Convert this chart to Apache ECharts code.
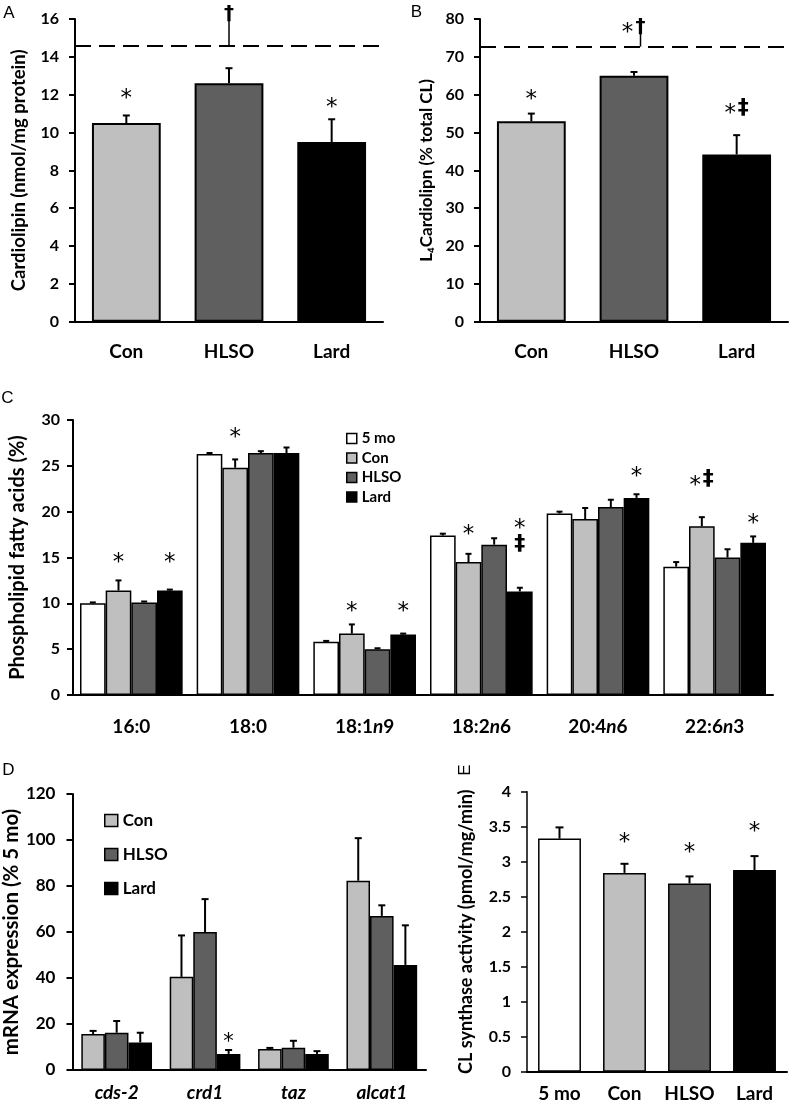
<!DOCTYPE html>
<html><head><meta charset="utf-8">
<script src="https://cdn.jsdelivr.net/npm/echarts@6/dist/echarts.min.js"></script>
<style>html,body{margin:0;padding:0;background:#fff}#c{width:791px;height:1105px}</style>
</head><body><div id="c"></div>
<script>
// ---------- DATA ----------
// Panel A
const catsA = ['Con', 'HLSO', 'Lard'];
const valA = [10.5, 12.6, 9.5];
const errA = [10.9, 13.4, 10.7];
const refA = 14.6;
// Panel B
const catsB = ['Con', 'HLSO', 'Lard'];
const valB = [53, 65, 44.2];
const errB = [55, 66, 49.3];
const refB = 72.7;
// Panel C
const catsC = ['16:0', '18:0', '18:1n9', '18:2n6', '20:4n6', '22:6n3'];
const namesC = ['5 mo', 'Con', 'HLSO', 'Lard'];
const c5mo = [10.0, 26.3, 5.8, 17.4, 19.8, 14.0];
const c5moErr = [10.1, 26.4, 5.9, 17.6, 20.0, 14.5];
const cCon = [11.4, 24.8, 6.7, 14.5, 19.2, 18.4];
const cConErr = [12.5, 25.7, 7.7, 15.4, 20.4, 19.4];
const cHLSO = [10.1, 26.4, 5.0, 16.4, 20.5, 15.0];
const cHLSOErr = [10.2, 26.6, 5.1, 17.1, 21.3, 15.9];
const cLard = [11.4, 26.4, 6.6, 11.3, 21.5, 16.6];
const cLardErr = [11.5, 27.0, 6.7, 11.7, 21.9, 17.3];
// Panel D
const catsD = ['cds-2', 'crd1', 'taz', 'alcat1'];
const namesD = ['Con', 'HLSO', 'Lard'];
const dCon = [15.6, 40.5, 9.1, 82.3];
const dConErr = [17.0, 58.5, 9.6, 100.8];
const dHLSO = [16.2, 60.0, 9.7, 67.0];
const dHLSOErr = [21.3, 74.3, 12.7, 71.6];
const dLard = [12.0, 7.0, 7.0, 45.7];
const dLardErr = [16.2, 8.7, 8.2, 62.9];
// Panel E
const catsE = ['5 mo', 'Con', 'HLSO', 'Lard'];
const valE = [3.33, 2.84, 2.69, 2.88];
const errE = [3.49, 2.97, 2.79, 3.08];
// Significance marks: [category index, bar index in group, height (axis value), text, stem base value]
const annA = [[0, 0, 12.1, '*'], [1, 0, 16.3, '†', refA], [2, 0, 11.6, '*']];
const annB = [[0, 0, 60.1, '*'], [1, 0, 78.0, '*†', refB], [2, 0, 56.5, '*‡']];
const annC = [[0, 1, 15.1, '*'], [0, 3, 15.1, '*'], [1, 1, 28.7, '*'], [2, 1, 9.7, '*'], [2, 3, 9.7, '*'],
  [3, 1, 18.1, '*'], [3, 3, 18.8, '*'], [3, 3, 16.4, '‡'], [4, 3, 24.5, '*'], [5, 1, 23.5, '*‡'], [5, 3, 19.3, '*']];
const annD = [[1, 2, 14.5, '*']];
const annE = [[1, 0, 3.36, '*'], [2, 0, 3.21, '*'], [3, 0, 3.51, '*']];

// ---------- STYLE ----------
const FONT = 'Lato, "Open Sans", sans-serif';
const colorsABC = ['#bfbfbf', '#5f5f5f', '#000000'];
const colorsC = ['#ffffff', '#bfbfbf', '#5f5f5f', '#000000'];
const colorsE = ['#ffffff', '#bfbfbf', '#5f5f5f', '#000000'];

function xAx(g, cats, fs, margin, italicN, allItalic) {
  return {
    type: 'category', gridIndex: g, data: cats,
    axisLine: { lineStyle: { color: '#000', width: 2 } },
    axisTick: { length: 6, lineStyle: { color: '#000', width: 2 } },
    axisLabel: {
      interval: 0, hideOverlap: false,
      margin: margin, color: '#000', fontFamily: FONT, fontWeight: 'bold', fontSize: fs,
      fontStyle: allItalic ? 'italic' : 'normal',
      formatter: italicN ? (v => v.replace('n', '{i|n}')) : undefined,
      rich: { i: { fontStyle: 'italic', fontWeight: 'bold', fontSize: fs, fontFamily: FONT, color: '#000' } }
    }
  };
}
function yAx(g, max, interval, fs, margin, name, nameGap, nameFs, labFont, lw) {
  return {
    type: 'value', gridIndex: g, min: 0, max: max, interval: interval,
    splitLine: { show: false },
    axisLine: { show: true, lineStyle: { color: '#000', width: lw || 2 } },
    axisTick: { show: true, length: 6, lineStyle: { color: '#000', width: lw || 2 } },
    axisLabel: { margin: margin, color: '#000', fontFamily: labFont || FONT, fontWeight: 'bold', fontSize: fs },
    name: name, nameLocation: 'middle', nameGap: nameGap,
    nameTextStyle: { color: '#000', fontFamily: FONT, fontWeight: 'bold', fontSize: nameFs }
  };
}
function errSeries(xi, vals, errs, n, idx, gap, lw, cap) {
  return {
    type: 'custom', xAxisIndex: xi, yAxisIndex: xi, z: 5, silent: true,
    data: vals.map((v, i) => [i, v, errs[i]]),
    renderItem: (p, api) => {
      const c = api.value(0), v = api.value(1), e = api.value(2);
      const a = api.coord([c, v]), b = api.coord([c, e]);
      const cw = api.size([1, 0])[0];
      const bw = cw * (1 - gap) / n;
      const x = a[0] + (-n / 2 + idx + 0.5) * bw;
      return { type: 'group', children: [
        { type: 'line', shape: { x1: x, y1: a[1], x2: x, y2: b[1] }, style: { stroke: '#000', lineWidth: lw } },
        { type: 'line', shape: { x1: x - cap / 2, y1: b[1], x2: x + cap / 2, y2: b[1] }, style: { stroke: '#000', lineWidth: lw } }
      ] };
    }
  };
}
function annSeries(xi, ann, n, gap, starFs) {
  return {
    type: 'custom', xAxisIndex: xi, yAxisIndex: xi, z: 6, silent: true, clip: false,
    data: ann.map(a => [a[0], a[2]]),
    renderItem: (p, api) => {
      const a = ann[p.dataIndex];
      const pt = api.coord([a[0], a[2]]);
      const cw = api.size([1, 0])[0];
      const bw = cw * (1 - gap) / n;
      const x = pt[0] + (-n / 2 + a[1] + 0.5) * bw;
      const chars = [...a[3]];
      const step = 13;
      const children = [];
      chars.forEach((ch, k) => {
        const cx = x + (k - (chars.length - 1) / 2) * step;
        const isStar = ch === '*';
        const fs = isStar ? starFs : (ch === '‡' ? 22 : 20);
        children.push({ type: 'text', style: { text: ch, x: cx, y: pt[1] + (isStar ? fs * 0.27 : 0),
          align: 'center', verticalAlign: 'middle', font: (isStar ? '' : 'bold ') + fs + 'px "DejaVu Sans"', fill: '#000' } });
        if (a[4] !== undefined && k === chars.length - 1) {
          const base = api.coord([a[0], a[4]]);
          children.push({ type: 'line', shape: { x1: cx, y1: base[1], x2: cx, y2: pt[1] + 5 }, style: { stroke: '#000', lineWidth: 1.5 } });
        }
      });
      return { type: 'group', children };
    }
  };
}
function coloredBars(xi, vals, colors, gap, bw) {
  return {
    type: 'bar', name: 'panel' + xi, xAxisIndex: xi, yAxisIndex: xi, barCategoryGap: gap,
    data: vals.map((v, i) => ({ value: v, itemStyle: { color: colors[i] } })),
    itemStyle: { borderColor: '#000', borderWidth: bw }
  };
}

const chart = echarts.init(document.getElementById('c'), null, { renderer: 'canvas' });
const dash = (val) => ({
  silent: true, symbol: 'none', label: { show: false },
  lineStyle: { type: [16, 8], width: 2, color: '#000' },
  data: [{ yAxis: val }]
});

const barA = coloredBars(0, valA, colorsABC, '33%', 2); barA.markLine = dash(refA);
const barB = coloredBars(1, valB, colorsABC, '33%', 2); barB.markLine = dash(refB);

const cVals = [c5mo, cCon, cHLSO, cLard], cErrs = [c5moErr, cConErr, cHLSOErr, cLardErr];
const dVals = [dCon, dHLSO, dLard], dErrs = [dConErr, dHLSOErr, dLardErr];

const series = [barA, barB];
namesC.forEach((nm, i) => series.push({
  type: 'bar', name: nm, xAxisIndex: 2, yAxisIndex: 2, data: cVals[i],
  barGap: '0%', barCategoryGap: '12%',
  itemStyle: { color: colorsC[i], borderColor: '#000', borderWidth: 1.5 }
}));
namesD.forEach((nm, i) => series.push({
  type: 'bar', name: nm, xAxisIndex: 3, yAxisIndex: 3, data: dVals[i],
  barGap: '0%', barCategoryGap: '20%',
  itemStyle: { color: colorsABC[i], borderColor: '#000', borderWidth: 1.5 }
}));
series.push(coloredBars(4, valE, colorsE, '34%', 1.5));

series.push(errSeries(0, valA, errA, 1, 0, 0.33, 2, 7));
series.push(errSeries(1, valB, errB, 1, 0, 0.33, 2, 7));
cVals.forEach((v, i) => series.push(errSeries(2, v, cErrs[i], 4, i, 0.12, 2, 6)));
dVals.forEach((v, i) => series.push(errSeries(3, v, dErrs[i], 3, i, 0.20, 2, 7)));
series.push(errSeries(4, valE, errE, 1, 0, 0.34, 2, 8));

series.push(annSeries(0, annA, 1, 0.33, 23));
series.push(annSeries(1, annB, 1, 0.33, 23));
series.push(annSeries(2, annC, 4, 0.12, 23));
series.push(annSeries(3, annD, 3, 0.20, 21));
series.push(annSeries(4, annE, 1, 0.34, 23));

const letter = (t, x, y, rot) => ({ type: 'text', x: x, y: y, rotation: rot || 0,
  style: { text: t, font: '17px "Liberation Sans", Arial, sans-serif', fill: '#000', align: 'center', verticalAlign: 'middle' } });

chart.setOption({
  animation: false,
  backgroundColor: '#fff',
  grid: [
    { left: 75, top: 19, width: 308, height: 302.7 },
    { left: 480, top: 19, width: 308, height: 302.7 },
    { left: 73, top: 420, width: 700, height: 275 },
    { left: 72, top: 794, width: 354, height: 276 },
    { left: 527, top: 791.7, width: 260, height: 280 }
  ],
  xAxis: [
    xAx(0, catsA, 19, 21),
    xAx(1, catsB, 19, 21),
    xAx(2, catsC, 19, 22, true),
    xAx(3, catsD, 19, 13, false, true),
    xAx(4, catsE, 19, 13)
  ],
  yAxis: [
    yAx(0, 16, 2, 16, 16, 'Cardiolipin (nmol/mg protein)', 46, 18.5),
    yAx(1, 80, 10, 16, 16, 'L₄Cardiolipn (% total CL)', 45, 17),
    yAx(2, 30, 5, 16, 13, 'Phospholipid fatty acids (%)', 45, 20),
    yAx(3, 120, 20, 17, 17, 'mRNA expression (% 5 mo)', 45, 20.5, '"Liberation Sans Narrow", ' + FONT),
    yAx(4, 4, 0.5, 16, 16, 'CL synthase activity (pmol/mg/min)', 52, 18, FONT, 1.5)
  ],
  legend: [
    { data: namesC, orient: 'vertical', left: 341, top: 426, itemWidth: 10, itemHeight: 10, itemGap: 4.5, icon: 'rect',
      textStyle: { fontFamily: FONT, fontWeight: 'bold', fontSize: 15, color: '#000' },
      itemStyle: { borderColor: '#000', borderWidth: 1.5 } },
    { data: namesD, orient: 'vertical', left: 99, top: 807, itemWidth: 13, itemHeight: 12, itemGap: 17, icon: 'rect',
      textStyle: { fontFamily: FONT, fontWeight: 'bold', fontSize: 17, color: '#000' },
      itemStyle: { borderColor: '#000', borderWidth: 1.5 } }
  ],
  graphic: [
    letter('A', 9, 13.5), letter('B', 416.5, 12.5), letter('C', 7.5, 398.5),
    letter('D', 8.5, 770), letter('E', 465, 770, Math.PI / 2)
  ],
  series: series
});
</script></body></html>
